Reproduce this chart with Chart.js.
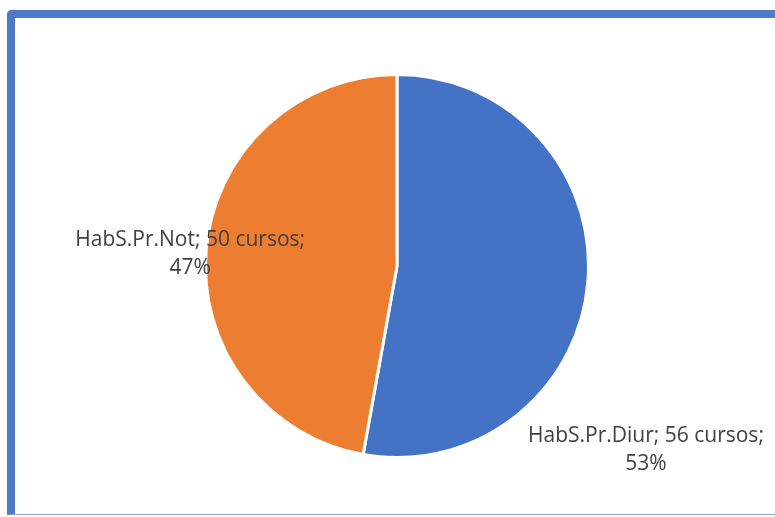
<!DOCTYPE html>
<html>
<head>
<meta charset="utf-8">
<script src="https://cdn.jsdelivr.net/npm/chart.js@4"></script>
<style>
  html, body { margin: 0; padding: 0; background: #fff; }
  #wrap { position: relative; width: 775px; height: 517px; overflow: hidden; }
  #frame {
    position: absolute; left: 7px; top: 10px; width: 780px; height: 496px;
    border-top: 8px solid #4f7ac7; border-left: 8px solid #4f7ac7;
    border-bottom: 1px solid #8eaadb; border-top-left-radius: 5px;
  }
  #pieChart { position: absolute; left: 0; top: 0; }
</style>
</head>
<body>
<div id="wrap">
  <div id="frame"></div>
  <canvas id="pieChart" width="775" height="517"></canvas>
</div>
<script>
const categories = ['HabS.Pr.Diur', 'HabS.Pr.Not'];
const cursos = [56, 50];
const colors = ['#4472c4', '#ed7d31'];
// label anchor offsets from the pie centre, in radius units
const labelOffsets = [[1.30, 0.96], [-1.08, -0.06]];

document.addEventListener("DOMContentLoaded", function(e) {
    const total = cursos.reduce((a, b) => a + b, 0);

    const dataLabels = {
        id: 'dataLabels',
        afterDatasetsDraw(chart) {
            const ctx = chart.ctx;
            const meta = chart.getDatasetMeta(0);
            ctx.save();
            ctx.font = '21px "Open Sans", sans-serif';
            ctx.fillStyle = '#404040';
            ctx.textAlign = 'center';
            ctx.textBaseline = 'middle';
            meta.data.forEach(function(arc, i) {
                const r = arc.outerRadius;
                const x = arc.x + labelOffsets[i][0] * r;
                const y = arc.y + labelOffsets[i][1] * r;
                const pct = Math.round(cursos[i] / total * 100) + '%';
                ctx.fillText(categories[i] + '; ' + cursos[i] + ' cursos;', x, y - 14);
                ctx.fillText(pct, x, y + 14);
            });
            ctx.restore();
        }
    };

    const config = {
        type: 'pie',
        data: {
            labels: categories,
            datasets: [{
                data: cursos,
                backgroundColor: colors,
                borderColor: '#ffffff',
                borderWidth: 3,
            }]
        },
        options: {
            responsive: false,
            animation: false,
            layout: { padding: { top: 73, bottom: 58, left: 20, right: 1 } },
            plugins: {
                legend: { display: false },
                tooltip: { enabled: false },
            }
        },
        plugins: [dataLabels]
    };

    new Chart(document.getElementById('pieChart'), config);
});
</script>
</body>
</html>
